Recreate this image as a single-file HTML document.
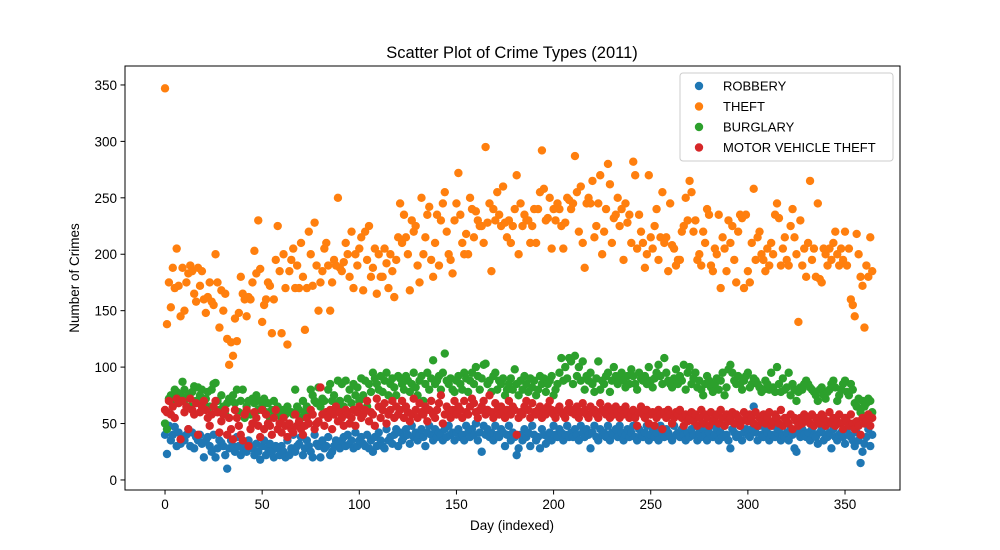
<!DOCTYPE html>
<html><head><meta charset="utf-8"><style>
body{margin:0;background:#fff;}
svg{display:block;font-family:"Liberation Sans","DejaVu Sans",sans-serif;}
</style></head><body>
<svg id="chart" width="1000" height="550" viewBox="0 0 1000 550" xmlns="http://www.w3.org/2000/svg">
<rect x="0" y="0" width="1000" height="550" fill="#fff"/>
<text x="512" y="58" text-anchor="middle" font-size="16.5">Scatter Plot of Crime Types (2011)</text>
<text x="512" y="530" text-anchor="middle" font-size="13.5">Day (indexed)</text>
<text transform="translate(79,278) rotate(-90)" text-anchor="middle" font-size="13.5">Number of Crimes</text>
<g id="marks"></g>
<g id="axes"></g>
<g>
<rect x="680" y="73" width="213" height="88" rx="3" fill="#fff" fill-opacity="0.8" stroke="#ccc"/>
<circle cx="699" cy="86" r="4.2" fill="#1f77b4"/>
<text x="723" y="90.5" font-size="13">ROBBERY</text>
<circle cx="699" cy="106.5" r="4.2" fill="#ff7f0e"/>
<text x="723" y="111" font-size="13">THEFT</text>
<circle cx="699" cy="127" r="4.2" fill="#2ca02c"/>
<text x="723" y="131.5" font-size="13">BURGLARY</text>
<circle cx="699" cy="147.5" r="4.2" fill="#d62728"/>
<text x="723" y="152" font-size="13">MOTOR VEHICLE THEFT</text>
</g>
</svg>
<script>
const xTicks=[0,50,100,150,200,250,300,350];
const yTicks=[0,50,100,150,200,250,300,350];
const seriesNames=["ROBBERY","THEFT","BURGLARY","MOTOR VEHICLE THEFT"];
const seriesColors=["#1f77b4","#ff7f0e","#2ca02c","#d62728"];
const robbery=[40,23,48,35,40,47,30,42,32,38,35,40,45,30,42,28,38,35,40,32,20,35,38,30,25,40,20,28,35,33,
30,22,10,28,35,30,25,38,30,22,28,32,25,35,30,28,22,32,25,18,30,35,22,28,32,25,20,30,28,22,
30,25,20,35,22,28,40,25,30,32,38,22,28,35,30,25,20,40,32,30,20,35,28,30,38,22,25,30,35,32,
28,35,38,30,40,32,35,28,42,30,35,38,32,30,40,28,35,25,38,30,42,35,30,28,45,35,38,32,40,45,
30,42,35,38,45,40,32,48,38,42,35,40,45,38,30,42,48,40,35,45,38,42,40,35,45,38,48,40,42,35,
42,45,38,40,35,48,42,38,45,40,50,35,42,25,48,40,45,38,42,35,48,40,38,45,42,30,40,48,35,42,
38,22,28,40,35,45,38,42,30,48,40,35,38,28,45,40,32,38,42,35,48,40,38,45,42,35,40,48,38,42,
38,45,40,35,48,42,38,45,40,28,42,48,38,35,45,40,42,38,48,35,42,40,45,38,48,42,35,40,45,38,
42,48,38,35,45,40,38,42,48,35,40,45,38,42,35,48,40,38,45,42,38,35,48,40,42,38,45,40,35,42,
38,45,40,48,35,42,38,45,40,35,42,48,38,40,45,35,42,38,48,40,35,28,45,42,38,40,48,35,42,45,
40,38,45,65,42,35,48,40,38,45,42,35,40,48,38,42,45,35,40,38,42,35,45,40,28,25,42,38,45,40,
38,42,35,45,40,38,32,42,45,35,40,38,42,28,45,38,35,40,42,38,32,45,40,38,35,30,42,35,15,25,32,38,45,30,40];
const theft=[347,138,175,153,188,170,205,172,145,188,150,175,183,190,185,165,158,188,172,185,160,148,162,175,158,155,200,175,135,168,
150,165,125,102,122,110,143,123,148,180,165,160,145,162,160,175,203,183,230,187,140,155,160,175,172,130,160,195,225,185,
130,200,170,120,185,195,205,170,190,170,210,180,133,170,220,200,172,228,190,150,175,185,205,210,190,150,175,195,190,250,
188,185,193,210,200,180,220,170,200,190,205,215,168,220,195,225,180,188,205,165,200,180,180,205,192,170,200,185,162,195,
215,245,210,235,215,200,168,230,220,225,190,175,250,200,215,235,242,195,180,210,235,190,230,245,255,220,200,195,183,230,
245,272,235,210,200,218,200,250,240,215,238,230,225,225,210,295,228,245,185,240,230,255,235,225,260,228,215,230,210,225,
240,270,200,245,225,235,230,230,210,225,240,210,240,255,292,258,230,232,250,205,240,230,245,240,225,205,228,250,248,240,
245,287,255,220,260,210,188,245,250,245,265,215,225,245,270,200,220,240,280,262,210,232,235,250,225,240,195,245,228,235,
210,282,270,205,235,220,210,188,200,270,215,205,225,240,195,215,255,210,215,185,245,208,205,190,195,195,220,225,250,230,
265,255,220,230,195,200,190,220,210,240,235,190,185,205,200,235,170,215,205,185,230,210,225,195,175,220,235,232,170,235,
185,175,210,258,195,215,220,200,195,185,205,190,210,200,235,245,232,190,205,215,195,190,225,240,215,200,140,230,190,205,
180,210,265,195,205,180,245,178,175,205,200,190,205,195,210,220,200,190,205,195,220,190,205,160,155,145,218,200,180,172,135,190,180,215,185];
const burglary=[50,45,72,75,68,80,78,70,75,87,80,72,75,65,78,83,70,82,75,80,68,72,78,65,80,85,86,70,62,75,
65,58,68,72,70,75,68,80,60,70,80,55,65,70,58,72,68,75,62,70,65,72,60,68,55,62,70,58,65,60,
55,62,58,65,50,60,58,80,65,62,55,70,60,65,58,80,75,70,68,82,65,72,70,60,80,85,70,75,62,88,
70,85,65,88,72,80,68,85,75,82,70,90,75,88,65,85,78,95,90,85,80,92,78,88,95,75,85,90,82,75,
92,90,85,80,92,88,78,85,95,82,75,88,92,70,85,95,80,90,106,85,88,92,80,95,112,88,85,90,80,78,
88,92,85,80,95,90,78,88,95,85,100,92,80,90,102,103,85,88,78,92,95,80,88,85,90,75,80,85,90,80,
98,85,75,88,80,92,85,78,90,82,88,75,80,92,85,90,78,85,88,92,75,80,85,95,108,88,100,90,108,105,
85,110,92,100,88,105,80,92,88,95,85,78,90,105,80,88,85,92,95,78,88,100,92,85,90,95,88,82,92,85,
98,92,85,80,95,90,88,92,85,100,88,82,90,95,102,92,85,108,95,88,85,82,90,98,85,92,88,102,80,95,
100,85,90,95,82,88,80,75,85,92,88,82,78,85,90,80,88,95,75,82,98,102,95,88,85,92,85,80,88,92,
95,82,85,90,88,85,82,78,80,88,85,80,95,82,78,100,85,78,90,80,82,95,75,85,80,70,78,82,80,85,
88,85,82,80,78,75,70,80,82,75,72,78,80,85,88,82,70,75,80,85,88,78,75,85,80,68,65,72,60,70,65,68,72,70,60];
const mvt=[62,60,70,58,65,55,72,68,36,70,60,65,45,72,62,58,68,40,60,65,70,62,55,48,58,65,70,60,42,52,
58,62,40,55,45,36,62,55,48,40,35,58,62,30,45,50,60,55,48,38,62,45,58,50,48,40,55,62,45,50,
42,55,48,38,50,45,42,58,48,52,45,40,48,55,50,62,58,45,50,52,82,58,48,60,55,62,45,58,65,52,
60,55,48,62,58,50,55,62,48,60,65,55,58,62,70,52,60,58,48,72,65,55,62,68,50,58,62,70,55,65,
58,62,70,55,65,60,52,58,72,62,55,68,60,58,65,52,62,70,58,55,62,68,75,50,58,65,60,55,62,70,
58,65,62,55,70,60,58,65,72,68,60,55,62,65,70,58,62,75,60,55,68,62,58,65,60,55,62,70,58,65,
62,40,55,60,58,65,70,62,55,68,60,58,62,65,55,60,58,65,70,62,58,55,62,65,60,58,55,62,68,60,
62,58,65,55,60,68,62,58,55,65,60,62,58,55,68,62,60,58,65,55,62,58,65,60,55,62,58,65,60,55,
58,62,55,48,60,65,58,55,62,50,58,60,48,55,62,58,45,60,55,62,58,50,55,60,58,62,55,48,58,52,
55,60,52,58,48,55,62,50,58,55,48,60,52,55,58,50,62,55,48,58,52,55,60,50,58,55,48,52,60,55,
52,58,55,50,60,48,55,52,58,50,55,60,48,52,58,55,50,62,48,55,52,50,58,45,55,52,48,55,50,58,
52,55,50,58,48,55,52,50,58,55,48,52,60,50,55,48,52,58,50,45,55,52,48,58,50,45,52,48,40,55,50,52,58,48,55];

const L=125,R=900,T=66,B=490;
const X0=-20.6,X1=378.3,Y0=-8.9,Y1=366.8;
function sx(v){return L+(v-X0)/(X1-X0)*(R-L);}
function sy(v){return B-(v-Y0)/(Y1-Y0)*(B-T);}
const NS="http://www.w3.org/2000/svg";
function mk(tag,attrs,parent){const e=document.createElementNS(NS,tag);for(const k in attrs)e.setAttribute(k,attrs[k]);parent.appendChild(e);return e;}
const marks=document.getElementById('marks');
const allSeries=[robbery,theft,burglary,mvt];
const keys=["robbery","theft","burglary","mvt"];
allSeries.forEach((arr,si)=>{
  const g=mk('g',{fill:seriesColors[si]},marks);
  
  
  arr.forEach((v,i)=>{
    const c=mk('circle',{cx:sx(i).toFixed(2),cy:sy(v).toFixed(2),r:4.2},g);
    
    
  });
});
const axes=document.getElementById('axes');
const frame=mk('rect',{x:L,y:T,width:R-L,height:B-T,fill:'none',stroke:'#000','stroke-width':1},axes);


xTicks.forEach(t=>{
  const x=sx(t);
  const ln=mk('line',{x1:x,x2:x,y1:B,y2:B+4.5,stroke:'#000'},axes);
  
  
  const tx=mk('text',{x:x,y:B+19,'text-anchor':'middle','font-size':13.5},axes);
  tx.textContent=t;
  
  
});
yTicks.forEach(t=>{
  const y=sy(t);
  const ln=mk('line',{x1:L-4.5,x2:L,y1:y,y2:y,stroke:'#000'},axes);
  
  
  const tx=mk('text',{x:L-8,y:y+5,'text-anchor':'end','font-size':13.5},axes);
  tx.textContent=t;
  
  
});
</script>
</body></html>
